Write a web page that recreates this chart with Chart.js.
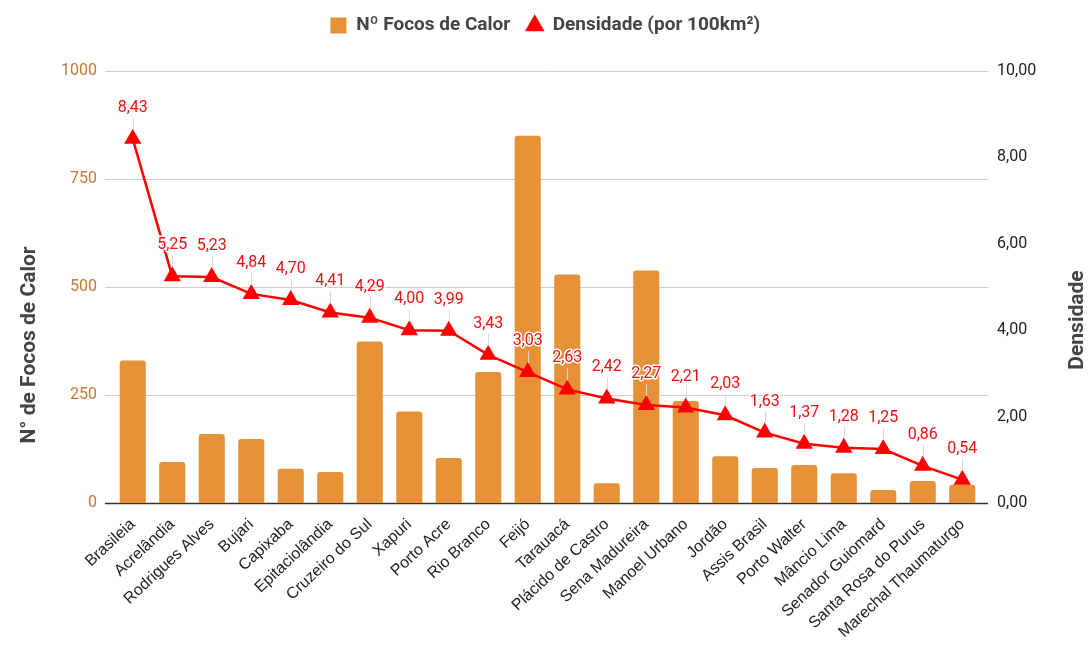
<!DOCTYPE html>
<html><head><meta charset="utf-8">
<script src="https://cdn.jsdelivr.net/npm/chart.js@4/dist/chart.umd.min.js"></script>
<style>html,body{margin:0;padding:0;background:#fff}#wrap{width:1090px;height:645px}</style>
</head><body><div id="wrap"><canvas id="c" width="1090" height="645"></canvas></div>
<script>
const categories = ["Brasileia","Acrelândia","Rodrigues Alves","Bujari","Capixaba","Epitaciolândia","Cruzeiro do Sul","Xapuri","Porto Acre","Rio Branco","Feijó","Tarauacá","Plácido de Castro","Sena Madureira","Manoel Urbano","Jordão","Assis Brasil","Porto Walter","Mâncio Lima","Senador Guiomard","Santa Rosa do Purus","Marechal Thaumaturgo"];
const focos = [330,95,160,148,79,72,374,212,104,303,850,529,46,538,236,108,81,88,69,30,51,42];
const densidade = [8.43,5.25,5.23,4.84,4.70,4.41,4.29,4.00,3.99,3.43,3.03,2.63,2.42,2.27,2.21,2.03,1.63,1.37,1.28,1.25,0.86,0.54];
const leftTicks = [0,250,500,750,1000];
const rightTicks = [0,2,4,6,8,10];
const seriesNames = ["Nº Focos de Calor","Densidade (por 100km²)"];
const axisTitles = ["N° de Focos de Calor","Densidade"];

const fmt = v => v.toFixed(2).replace('.', ',');

const extras = {
  id: 'extras',
  afterInit(chart) {
    const lg = chart.legend;
    if (lg && !lg._patched) {
      const orig = lg.fit.bind(lg);
      lg.fit = function () { orig(); this.height += 26; };
      lg._patched = true;
    }
  },
  beforeDatasetsDraw(chart) {
    const {ctx, chartArea, scales} = chart;
    const y = scales.y;
    ctx.save();
    leftTicks.forEach(t => {
      const py = Math.round(y.getPixelForValue(t)) + 0.5;
      ctx.beginPath();
      ctx.strokeStyle = t === 0 ? '#333333' : '#cccccc';
      ctx.lineWidth = t === 0 ? 1.5 : 1;
      ctx.moveTo(chartArea.left - 8, py);
      ctx.lineTo(chartArea.right + 6, py);
      ctx.stroke();
    });
    ctx.restore();
  },
  afterDatasetsDraw(chart) {
    const {ctx} = chart;
    const meta = chart.getDatasetMeta(0);
    ctx.save();
    ctx.font = '16px Roboto';
    ctx.textAlign = 'center';
    ctx.textBaseline = 'middle';
    meta.data.forEach((pt, i) => {
      const x = pt.x, py = pt.y;
      ctx.beginPath();
      ctx.strokeStyle = '#d8d8d8';
      ctx.lineWidth = 1;
      ctx.moveTo(Math.round(x) + 0.5, py - 21);
      ctx.lineTo(Math.round(x) + 0.5, py - 9);
      ctx.stroke();
      const txt = fmt(densidade[i]);
      ctx.lineWidth = 3;
      ctx.strokeStyle = '#ffffff';
      ctx.lineJoin = 'round';
      ctx.strokeText(txt, x, py - 31);
      ctx.fillStyle = '#ee1111';
      ctx.fillText(txt, x, py - 31);
    });
    ctx.font = 'bold 21px Roboto';
    ctx.fillStyle = '#444444';
    ctx.textAlign = 'center';
    ctx.textBaseline = 'middle';
    ctx.save();
    ctx.translate(30, 345);
    ctx.rotate(-Math.PI / 2);
    ctx.fillText(axisTitles[0], 0, 0);
    ctx.restore();
    ctx.save();
    ctx.translate(1078, 320);
    ctx.rotate(-Math.PI / 2);
    ctx.fillText(axisTitles[1], 0, 0);
    ctx.restore();
    ctx.restore();
  }
};

new Chart(document.getElementById('c'), {
  data: {
    labels: categories,
    datasets: [
      {
        type: 'line',
        label: seriesNames[1],
        data: densidade,
        yAxisID: 'y1',
        borderColor: '#ff0000',
        backgroundColor: '#ff0000',
        borderWidth: 2.5,
        pointStyle: 'triangle',
        pointRadius: 7.5,
        pointHoverRadius: 7.5,
        tension: 0,
        order: 0
      },
      {
        type: 'bar',
        label: seriesNames[0],
        data: focos,
        yAxisID: 'y',
        backgroundColor: '#e69138',
        borderRadius: 3,
        borderSkipped: 'bottom',
        barPercentage: 0.66,
        categoryPercentage: 1,
        order: 1
      }
    ]
  },
  options: {
    responsive: false,
    animation: false,
    events: [],
    layout: {padding: {top: 0, left: 0, right: 0, bottom: 0}},
    plugins: {
      tooltip: {enabled: false},
      legend: {
        position: 'top',
        reverse: true,
        labels: {
          usePointStyle: true,
          font: {family: 'Roboto', size: 19, weight: 'bold'},
          color: '#444444',
          padding: 16,
          boxWidth: 17,
          boxHeight: 16,
          generateLabels(chart) {
            return chart.data.datasets.map((ds, i) => ({
              text: ds.label,
              fillStyle: ds.type === 'bar' ? '#e69138' : '#ff0000',
              strokeStyle: ds.type === 'bar' ? '#e69138' : '#ff0000',
              lineWidth: 0,
              pointStyle: ds.type === 'bar' ? 'rect' : 'triangle',
              datasetIndex: i,
              hidden: false,
              fontColor: '#444444'
            }));
          }
        }
      }
    },
    scales: {
      x: {
        grid: {display: false},
        border: {display: false},
        ticks: {
          minRotation: 43, maxRotation: 43,
          font: {family: 'Liberation Sans', size: 16},
          color: '#222222',
          padding: 4,
          autoSkip: false
        },
        afterFit(s) { s.height = 142; }
      },
      y: {
        position: 'left',
        min: 0, max: 1000,
        afterBuildTicks(s) { s.ticks = leftTicks.map(v => ({value: v})); },
        grid: {display: false, drawTicks: false},
        border: {display: false},
        ticks: {font: {family: 'Roboto', size: 16}, color: '#c8772f', padding: 16, callback: v => String(v)},
        afterFit(s) { s.width = 113; }
      },
      y1: {
        position: 'right',
        min: 0, max: 10,
        afterBuildTicks(s) { s.ticks = rightTicks.map(v => ({value: v})); },
        grid: {display: false, drawTicks: false},
        border: {display: false},
        ticks: {font: {family: 'Roboto', size: 16}, color: '#222222', padding: 15, callback: v => fmt(v)},
        afterFit(s) { s.width = 108; }
      }
    }
  },
  plugins: [extras]
});
</script></body></html>
